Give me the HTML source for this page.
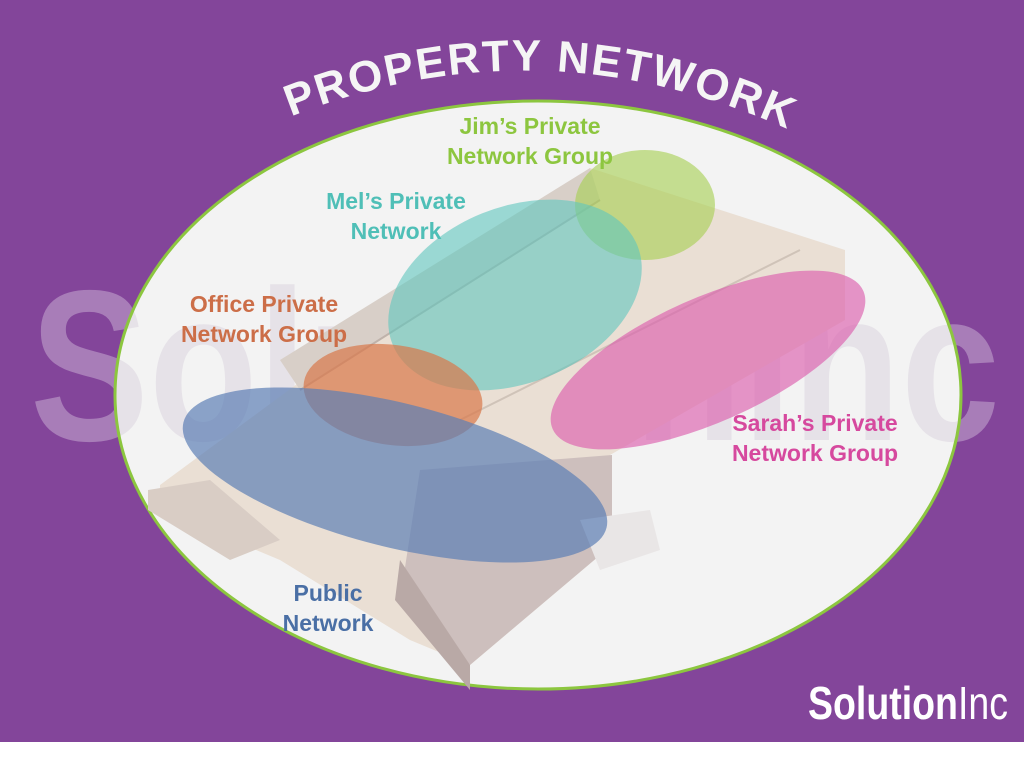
<!DOCTYPE html>
<html><head><meta charset="utf-8"><style>
html,body{margin:0;padding:0;background:#fff;}
#c{position:relative;width:1024px;height:758px;overflow:hidden;background:#fff;}
.lbl{position:absolute;font-family:"Liberation Sans",sans-serif;font-weight:bold;font-size:23px;line-height:30px;text-align:center;white-space:nowrap;transform:translateX(-50%);}
</style></head><body><div id="c">
<svg width="1024" height="758" viewBox="0 0 1024 758" xmlns="http://www.w3.org/2000/svg" style="position:absolute;left:0;top:0">
<defs><clipPath id="ec"><ellipse cx="538" cy="395" rx="423" ry="294"/></clipPath></defs>
<rect x="0" y="0" width="1024" height="742" fill="#83459a"/>
<text x="30" y="440" font-family="Liberation Sans,sans-serif" font-weight="bold" font-size="215" fill="#ffffff" opacity="0.3" textLength="970" lengthAdjust="spacingAndGlyphs">SolutionInc</text>
<ellipse cx="538" cy="395" rx="423" ry="294" fill="#f3f3f3"/>
<text clip-path="url(#ec)" x="30" y="440" font-family="Liberation Sans,sans-serif" font-weight="bold" font-size="215" fill="#ded8e2" opacity="0.6" textLength="970" lengthAdjust="spacingAndGlyphs">SolutionInc</text>
<ellipse cx="538" cy="395" rx="423" ry="294" fill="none" stroke="#8cc63f" stroke-width="3"/>
<!-- building -->
<polygon points="160,485 590,168 845,250 845,320 610,455 612,545 470,665 410,640 280,560 160,510" fill="#eadfd4"/>
<polygon points="280,360 590,168 600,200 300,390" fill="#d8cfc8"/>
<polygon points="420,470 612,455 612,545 470,665 400,600" fill="#cdbfbd"/>
<polygon points="400,560 470,665 470,690 395,600" fill="#b9a9a6"/>
<polygon points="148,490 210,480 280,540 230,560 148,510" fill="#d9cdc5"/>
<polygon points="580,520 650,510 660,550 600,570" fill="#e9e6e6"/>
<line x1="300" y1="390" x2="600" y2="200" stroke="#bfb2aa" stroke-width="2"/>
<line x1="460" y1="420" x2="800" y2="250" stroke="#cfc3b8" stroke-width="2"/>
<!-- network blobs -->
<ellipse cx="645" cy="205" rx="70" ry="55" fill="#a5cf4f" opacity="0.6"/>
<ellipse cx="515" cy="295" rx="132" ry="88" transform="rotate(-22 515 295)" fill="#5fc7be" opacity="0.6"/>
<ellipse cx="708" cy="360" rx="170" ry="62" transform="rotate(-24 708 360)" fill="#dc5fae" opacity="0.65"/>
<ellipse cx="393" cy="395" rx="90" ry="50" transform="rotate(8 393 395)" fill="#d9774a" opacity="0.7"/>
<ellipse cx="395" cy="475" rx="218" ry="72" transform="rotate(14 395 475)" fill="#5d7fb5" opacity="0.7"/>
<!-- title -->
<path id="arc" d="M295,115 Q540,20 785,128" fill="none"/>
<text font-family="Liberation Sans,sans-serif" font-weight="bold" font-size="44" fill="#f5f5f5" letter-spacing="2"><textPath href="#arc" startOffset="50%" text-anchor="middle">PROPERTY NETWORK</textPath></text>
<text x="808" y="719" font-family="Liberation Sans,sans-serif" font-weight="bold" font-size="46" fill="#fff" textLength="200" lengthAdjust="spacingAndGlyphs">Solution<tspan font-weight="normal">Inc</tspan></text>
</svg>
<div class="lbl" style="left:530px;top:111px;color:#8dc63f">Jim’s Private<br>Network Group</div>
<div class="lbl" style="left:396px;top:186px;color:#4fbfb7">Mel’s Private<br>Network</div>
<div class="lbl" style="left:264px;top:289px;color:#cc6e48">Office Private<br>Network Group</div>
<div class="lbl" style="left:815px;top:408px;color:#d6499e">Sarah’s Private<br>Network Group</div>
<div class="lbl" style="left:328px;top:578px;color:#4a6fa5">Public<br>Network</div>
</div></body></html>
